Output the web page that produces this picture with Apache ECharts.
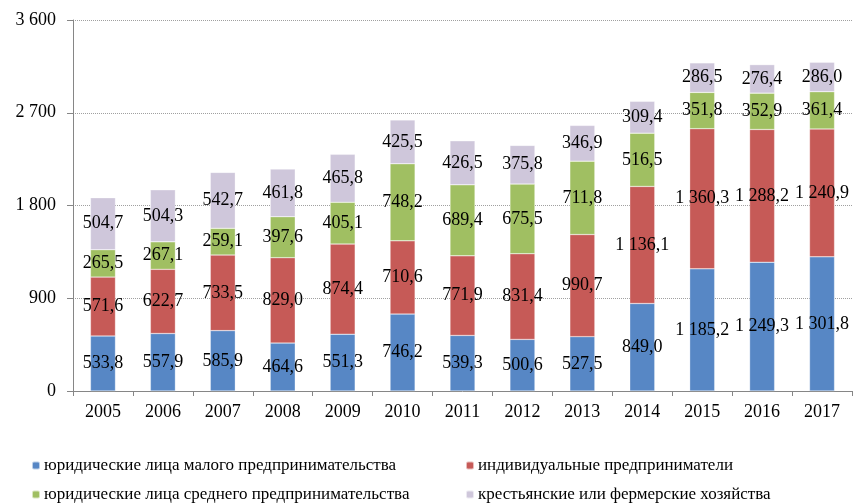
<!DOCTYPE html>
<html>
<head>
<meta charset="utf-8">
<script src="https://cdn.jsdelivr.net/npm/echarts@6/dist/echarts.min.js"></script>
<style>
  html, body { margin: 0; padding: 0; background: #fff; }
  #main { width: 853px; height: 503px; }
</style>
</head>
<body>
<div id="main"></div>
<script>
var years = ['2005', '2006', '2007', '2008', '2009', '2010', '2011', '2012', '2013', '2014', '2015', '2016', '2017'];
var seriesNames = [
    'юридические лица малого предпринимательства',
    'индивидуальные предприниматели',
    'юридические лица среднего предпринимательства',
    'крестьянские или фермерские хозяйства'
];
var smallFirms = [533.8, 557.9, 585.9, 464.6, 551.3, 746.2, 539.3, 500.6, 527.5, 849.0, 1185.2, 1249.3, 1301.8];
var entrepreneurs = [571.6, 622.7, 733.5, 829.0, 874.4, 710.6, 771.9, 831.4, 990.7, 1136.1, 1360.3, 1288.2, 1240.9];
var mediumFirms = [265.5, 267.1, 259.1, 397.6, 405.1, 748.2, 689.4, 675.5, 711.8, 516.5, 351.8, 352.9, 361.4];
var farms = [504.7, 504.3, 542.7, 461.8, 465.8, 425.5, 426.5, 375.8, 346.9, 309.4, 286.5, 276.4, 286.0];
var colors = ['#5787C5', '#C65A57', '#A0BF62', '#CFC7DB'];

var font = '"Liberation Serif", "Times New Roman", serif';

// 1 185,2 style: space for thousands, comma for decimals
function fmt(v, digits) {
    var parts = v.toFixed(digits).split('.');
    var intPart = parts[0].replace(/\B(?=(\d{3})+(?!\d))/g, ' ');
    return parts.length > 1 ? intPart + ',' + parts[1] : intPart;
}

function makeSeries(name, data, color) {
    return {
        name: name,
        type: 'bar',
        stack: 'total',
        data: data,
        barWidth: 25,
        itemStyle: { color: color, borderColor: 'rgba(255,255,255,0.6)', borderWidth: 0.5 },
        label: {
            show: true,
            position: 'inside',
            color: '#000',
            fontFamily: font,
            fontSize: 18,
            formatter: function (p) { return fmt(p.value, 1); }
        }
    };
}

// one legend per entry so the two columns line up like the original
function makeLegend(name, left, top) {
    return {
        data: [name],
        left: left,
        top: top,
        itemWidth: 8,
        itemHeight: 8,
        textStyle: { fontFamily: font, fontSize: 17, color: '#000', padding: [0, 0, 0, -1] }
    };
}

var myChart = echarts.init(document.getElementById('main'));

var option = {
    animation: false,
    color: colors,
    grid: { left: 73, right: 1, top: 20, bottom: 112 },
    legend: [
        makeLegend(seriesNames[0], 26, 452),
        makeLegend(seriesNames[1], 460, 452),
        makeLegend(seriesNames[2], 26, 481),
        makeLegend(seriesNames[3], 460, 481)
    ],
    xAxis: {
        type: 'category',
        data: years,
        axisLine: { lineStyle: { color: '#868686' } },
        axisTick: { show: true, length: 5, lineStyle: { color: '#868686' } },
        axisLabel: { color: '#000', fontFamily: font, fontSize: 18, margin: 12 }
    },
    yAxis: {
        type: 'value',
        min: 0,
        max: 3600,
        interval: 900,
        axisLine: { show: true, lineStyle: { color: '#868686' } },
        axisTick: { show: true, length: 6, lineStyle: { color: '#868686' } },
        splitLine: { lineStyle: { color: '#a0a0a0', type: [1, 1], width: 1 } },
        axisLabel: {
            color: '#000',
            fontFamily: font,
            fontSize: 18,
            margin: 17,
            formatter: function (v) { return fmt(v, 0); }
        }
    },
    series: [
        makeSeries(seriesNames[0], smallFirms, colors[0]),
        makeSeries(seriesNames[1], entrepreneurs, colors[1]),
        makeSeries(seriesNames[2], mediumFirms, colors[2]),
        makeSeries(seriesNames[3], farms, colors[3])
    ]
};

myChart.setOption(option);
</script>
</body>
</html>
